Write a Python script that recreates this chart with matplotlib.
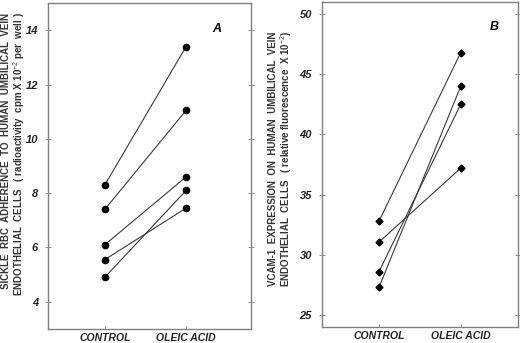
import numpy as np
import matplotlib
matplotlib.use("Agg")
import matplotlib.pyplot as plt

plt.rcParams['font.family'] = ['Liberation Sans', 'DejaVu Sans']
plt.rcParams['mathtext.fontset'] = 'custom'
plt.rcParams['mathtext.rm'] = 'Liberation Sans'
plt.rcParams['mathtext.bf'] = 'Liberation Sans:bold'

groups = ["CONTROL", "OLEIC ACID"]

# panel A: sickle RBC adherence, pairs control -> oleic acid
adh_control = [8.3, 7.4, 6.1, 5.55, 4.9]
adh_oleic = [13.4, 11.05, 8.6, 7.45, 8.1]
adh_ticks = [4, 6, 8, 10, 12, 14]

# panel B: VCAM-1 expression
vcam_control = [32.8, 31.05, 28.6, 27.3]
vcam_oleic = [46.8, 37.2, 42.5, 44.0]
vcam_ticks = [25, 30, 35, 40, 45, 50]

fig = plt.figure(figsize=(5.2, 3.43), dpi=100)
axA = fig.add_axes([0.092, 0.041, 0.391, 0.950])
axB = fig.add_axes([0.619, 0.047, 0.377, 0.947])

xpos = [1, 2]
spine_col = '#808080'
line_col = '#3a3a3a'

def style(ax, ticks, ylim, xlim):
    ax.set_ylim(*ylim)
    ax.set_xlim(*xlim)
    ax.set_yticks(ticks)
    ax.set_yticklabels([str(t) for t in ticks], fontsize=8,
                       fontweight='bold', style='italic', color='#222222')
    ax.set_xticks(xpos)
    ax.set_xticklabels(groups, fontsize=7.5, fontweight='bold',
                       style='italic', color='#222222')
    ax.tick_params(axis='y', direction='inout', length=4, width=0.6,
                   color=spine_col, left=True, right=True, pad=5)
    ax.tick_params(axis='x', direction='in', length=2.5, width=0.6,
                   color=spine_col, pad=3)
    for s in ax.spines.values():
        s.set_color(spine_col)
        s.set_linewidth(1.0)

for c, o in zip(adh_control, adh_oleic):
    axA.plot(xpos, [c, o], '-', color=line_col, lw=0.8, marker='o',
             ms=4.5, mfc='black', mec='black')
style(axA, adh_ticks, (3, 15), (0.3, 2.8))
axA.text(0.83, 0.92, "A", transform=axA.transAxes, fontsize=9,
         fontweight='bold', style='italic', ha='center', va='center')

for c, o in zip(vcam_control, vcam_oleic):
    axB.plot(xpos, [c, o], '-', color=line_col, lw=0.8, marker='D',
             ms=3.5, mfc='black', mec='black')
style(axB, vcam_ticks, (24, 51), (0.3, 2.7))
axB.text(0.88, 0.923, "B", transform=axB.transAxes, fontsize=9,
         fontweight='bold', style='italic', ha='center', va='center')

# y-axis titles, two lines each
lab = dict(fontsize=7, fontweight='bold', color='#333333', rotation=90,
           ha='center', va='center')
fig.text(6.5 / 520, 0.56,
         "SICKLE  RBC  ADHERENCE  TO  HUMAN  UMBILICAL  VEIN", **lab)
fig.text(19 / 520, 0.55,
         "ENDOTHELIAL  CELLS   ( radioactivity  cpm X 10$^{-2}$ per  well )",
         **lab)
fig.text(273 / 520, 0.536,
         "VCAM-1  EXPRESSION  ON  HUMAN  UMBILICAL  VEIN", **lab)
fig.text(286 / 520, 0.536,
         "ENDOTHELIAL  CELLS   ( relative fluorescence  X 10$^{-2}$)", **lab)

fig.savefig("out.png", dpi=100)
